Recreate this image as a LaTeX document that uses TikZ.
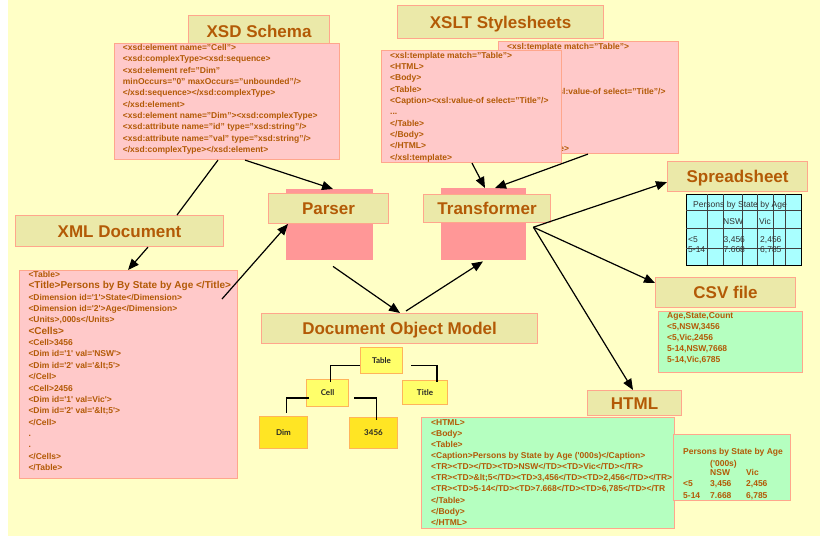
\documentclass[tikz,border=0pt]{standalone}
\usepackage{fontspec}
\setmainfont{Liberation Sans}
\newfontfamily\domfont{Lato}
\usetikzlibrary{arrows.meta,calc}

\definecolor{bg}{HTML}{FFFFC6}
\definecolor{titlefill}{HTML}{EBE9A9}
\definecolor{edge}{HTML}{FFA68C}
\definecolor{ink}{HTML}{B35A06}
\definecolor{codepink}{HTML}{FFC9C9}
\definecolor{blockpink}{HTML}{FF9797}
\definecolor{codegreen}{HTML}{B5FFC0}
\definecolor{tablecyan}{HTML}{A9FFFF}
\definecolor{nodeyellow}{HTML}{FFFF6A}
\definecolor{nodegold}{HTML}{FFE524}
\definecolor{nodeedge}{HTML}{FFB45A}

\newcommand{\tq}{\textquotesingle}
\newcommand{\xsltlines}{%
<xsl:template match="Table">\\
<HTML>\\
<Body>\\
<Table>\\
<Caption><xsl:value-of select="Title"/>\\
...\\
</Table>\\
</Body>\\
</HTML>\\
</xsl:template>}

\begin{document}
\begin{tikzpicture}[x=1pt,y=-1pt,
  titlebox/.style={draw=edge, line width=1.1pt, fill=titlefill, anchor=north west,
    inner sep=0pt, text=ink, font=\fontsize{17}{20}\selectfont\bfseries,
    text height=12.2pt, text depth=0pt},
  codebox/.style={draw=edge, line width=1.1pt, anchor=north west, inner sep=0pt},
  code/.style={anchor=north west, inner sep=0pt, align=left, text=ink,
    font=\fontsize{8.5}{11.3}\selectfont\bfseries,
    execute at begin node={\rule{0pt}{7pt}}},
  block/.style={fill=blockpink, anchor=north west, inner sep=0pt},
  flow/.style={line width=1.2pt, -{Triangle[length=11pt,width=9pt]}},
  tree/.style={line width=1.8pt},
  domnode/.style={draw=nodeedge, line width=1pt, anchor=north west, inner sep=0pt,
    font=\domfont\fontsize{8}{10}\selectfont\bfseries, text=black!85},
  sstext/.style={anchor=base west, inner sep=0pt, text=black!80,
    font=\fontsize{8.5}{10}\selectfont},
  viewtext/.style={anchor=base west, inner sep=0pt, text=ink,
    font=\fontsize{8.5}{10}\selectfont\bfseries},
  gridline/.style={line width=0.9pt, draw=black!75}
]
% page background
\fill[white] (0,0) rectangle (820,536);
\fill[bg] (8,0) rectangle (820,536);
\useasboundingbox (0,0) rectangle (820,536);

% ---------- XSD schema ----------
\node[titlebox, minimum width=141pt, minimum height=31pt] (xsdtitle) at (188,15) {XSD Schema};
\node[codebox, fill=codepink, minimum width=225pt, minimum height=116pt] (xsdbox) at (114,43) {};
\node[code] (xsdtext) at (122.7,44.3) {%
<xsd:element name="Cell">\\
<xsd:complexType><xsd:sequence>\\
<xsd:element ref="Dim"\\
minOccurs="0" maxOccurs="unbounded"/>\\
</xsd:sequence></xsd:complexType>\\
</xsd:element>\\
<xsd:element name="Dim"><xsd:complexType>\\
<xsd:attribute name="id" type="xsd:string"/>\\
<xsd:attribute name="val" type="xsd:string"/>\\
</xsd:complexType></xsd:element>};

% ---------- XSLT stylesheets ----------
\node[titlebox, minimum width=206pt, minimum height=33pt] (xslttitle) at (397,5) {XSLT Stylesheets};
\node[codebox, fill=codepink, minimum width=180pt, minimum height=112pt] (xsltback) at (498,41) {};
\node[code] (xsltbacktext) at (507,43) {\xsltlines};
\node[codebox, fill=codepink, minimum width=180pt, minimum height=112pt] (xsltfront) at (381,50) {};
\node[code] (xsltfronttext) at (390,52) {\xsltlines};

% ---------- processors ----------
\node[block, minimum width=87pt, minimum height=71pt] (parserbg) at (286,189) {};
\node[titlebox, minimum width=120pt, minimum height=30pt] (parser) at (268,193) {Parser};
\node[block, minimum width=85pt, minimum height=72pt] (transbg) at (441,188) {};
\node[titlebox, minimum width=127pt, minimum height=28pt] (transformer) at (423,194) {Transformer};

% ---------- XML document ----------
\node[titlebox, minimum width=208pt, minimum height=31pt] (xmltitle) at (15,215) {XML Document};
\node[codebox, fill=codepink, minimum width=218pt, minimum height=208pt] (xmlbox) at (19,270) {};
\node[code, font=\fontsize{8.5}{11.37}\selectfont\bfseries] (xmltext) at (28.3,271) {%
<Table>\\
{\fontsize{10}{11.37}\selectfont <Title>Persons by By State by Age </Title>}\\
<Dimension id=\tq1\tq>State</Dimension>\\
<Dimension id=\tq2\tq>Age</Dimension>\\
<Units>,000s</Units>\\
{\fontsize{10}{11.37}\selectfont <Cells>}\\
<Cell>3456\\
<Dim id=\tq1\tq{} val=\tq NSW\tq>\\
<Dim id=\tq2\tq{} val=\tq\&lt;5\tq>\\
</Cell>\\
<Cell>2456\\
<Dim id=\tq1\tq{} val=Vic\tq>\\
<Dim id=\tq2\tq{} val=\tq\&lt;5\tq>\\
</Cell>\\
.\\
.\\
</Cells>\\
</Table>};

% ---------- document object model ----------
\node[titlebox, minimum width=276pt, minimum height=30pt] (domtitle) at (261,313) {Document Object Model};
\node[domnode, fill=nodeyellow, minimum width=42pt, minimum height=26pt] (tbl) at (360,347) {Table};
\node[domnode, fill=nodeyellow, minimum width=42pt, minimum height=27pt] (cell) at (306,379) {Cell};
\node[domnode, fill=nodeyellow, minimum width=45pt, minimum height=24pt] (ttl) at (402,380) {Title};
\node[domnode, fill=nodegold, minimum width=48pt, minimum height=32pt] (dim) at (259,416) {Dim};
\node[domnode, fill=nodegold, minimum width=48pt, minimum height=31pt] (n3456) at (349,417) {3456};
\draw[tree] ($(tbl.west)+(0,5)$) -| ($(cell.north)+(3,3)$);
\draw[tree] ($(tbl.east)+(8,5)$) -| ($(ttl.north)+(12,2)$);
\draw[tree] ($(cell.west)+(3,5)$) -| ($(dim.north)+(3,-3)$);
\draw[tree] ($(cell.east)+(5,5)$) -| ($(n3456.north)+(3,3)$);

% ---------- spreadsheet ----------
\node[titlebox, minimum width=140pt, minimum height=30pt] (sstitle) at (667,161) {Spreadsheet};
\node[draw=black, line width=1.3pt, fill=tablecyan, anchor=north west, inner sep=0pt,
  minimum width=115pt, minimum height=71pt] (sheet) at (686,194) {};
\foreach \gx in {707,723,742,757,773,785}
  \draw[gridline] (\gx,194) -- (\gx,265);
\foreach \gy in {210,228,248}
  \draw[gridline] (686,\gy) -- (801,\gy);
\node[sstext, anchor=base] (sscap) at (740,207) {Persons by State by Age};
\node[sstext] (ssnsw) at (723,224) {NSW};
\node[sstext] (ssvic) at (759,224) {Vic};
\node[sstext] (ssa1) at (688,242) {<5};
\node[sstext] (ssa2) at (723.5,242) {3,456};
\node[sstext] (ssa3) at (760,242) {2,456};
\node[sstext] (ssb1) at (688,252) {5-14};
\node[sstext] (ssb2) at (723.5,252) {7.668};
\node[sstext] (ssb3) at (760,252) {6,785};

% ---------- CSV file ----------
\node[titlebox, minimum width=140pt, minimum height=30pt] (csvtitle) at (655,277) {CSV file};
\node[codebox, fill=codegreen, minimum width=144pt, minimum height=61pt] (csvbox) at (658,311) {};
\node[code, font=\fontsize{8.5}{11.2}\selectfont\bfseries] (csvtext) at (667,312) {%
Age,State,Count\\
<5,NSW,3456\\
<5,Vic,2456\\
5-14,NSW,7668\\
5-14,Vic,6785};

% ---------- HTML ----------
\node[titlebox, minimum width=94pt, minimum height=25pt] (htmltitle) at (587,390) {HTML};
\node[codebox, fill=codegreen, minimum width=253pt, minimum height=111pt] (htmlbox) at (421,417) {};
\node[code, font=\fontsize{8.5}{11.1}\selectfont\bfseries] (htmltext) at (431,419.3) {%
<HTML>\\
<Body>\\
<Table>\\
<Caption>Persons by State by Age (\tq000s)</Caption>\\
<TR><TD></TD><TD>NSW</TD><TD>Vic</TD></TR>\\
<TR><TD>\&lt;5</TD><TD>3,456</TD><TD>2,456</TD></TR>\\
<TR><TD>5-14</TD><TD>7.668</TD><TD>6,785</TD></TR\\
</Table>\\
</Body>\\
</HTML>};
\node[codebox, fill=codegreen, minimum width=117pt, minimum height=66pt] (htmlview) at (673,434) {};
\node[viewtext] (hvcap) at (683,454) {Persons by State by Age};
\node[viewtext] (hvunit) at (710,466) {(\tq000s)};
\node[viewtext] (hvnsw) at (710,475) {NSW};
\node[viewtext] (hvvic) at (746,475) {Vic};
\node[viewtext] (hva1) at (683,486) {<5};
\node[viewtext] (hva2) at (710,486) {3,456};
\node[viewtext] (hva3) at (746,486) {2,456};
\node[viewtext] (hvb1) at (683,498) {5-14};
\node[viewtext] (hvb2) at (710,498) {7.668};
\node[viewtext] (hvb3) at (746,498) {6,785};

% ---------- connectors ----------
\draw[line width=1.2pt] ($(xsdbox.south west)+(104,0)$) -- ($(xmltitle.north west)+(162,0)$);
\draw[flow] ($(xsdbox.south west)+(131,0)$) -- ($(parserbg.north west)+(47,0)$);
\draw[flow] ($(xmltitle.south west)+(133,0)$) -- ($(xmlbox.north west)+(109,0)$);
\draw[flow] ($(xmlbox.north west)+(203,29)$) -- ($(parser.south west)+(20,0)$);
\draw[flow] ($(parserbg.south west)+(47,6)$) -- ($(domtitle.north west)+(139,0)$);
\draw[flow] ($(domtitle.north west)+(145,-2)$) -- ($(transbg.south west)+(42,1)$);
\draw[flow] ($(xsltfront.south west)+(91,0)$) -- ($(transbg.north west)+(44,0)$);
\draw[flow] ($(xsltback.south west)+(90,0)$) -- ($(transbg.north west)+(54,0)$);
\coordinate (fan) at ($(transbg.east)+(7,3)$);
\draw[flow] (fan) -- ($(sstitle.south west)+(0,-10)$);
\draw[flow] (fan) -- ($(csvtitle.north west)+(0,6)$);
\draw[flow] (fan) -- ($(htmltitle.north west)+(46,0)$);
\end{tikzpicture}
\end{document}
